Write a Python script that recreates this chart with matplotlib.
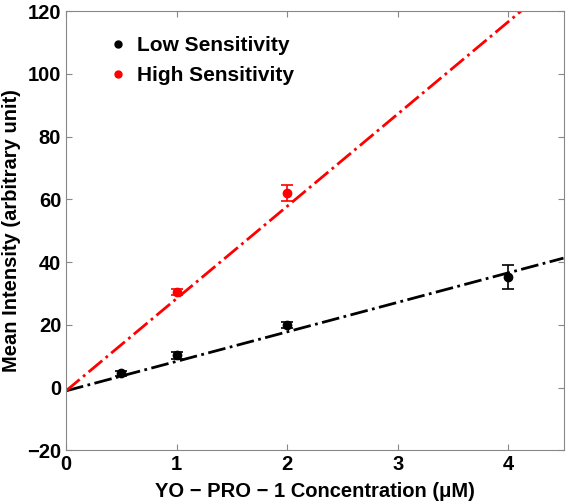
import numpy as np
import matplotlib
matplotlib.use("Agg")
import matplotlib.pyplot as plt

plt.rcParams['font.family'] = ['Liberation Sans', 'DejaVu Sans']
plt.rcParams['font.weight'] = 'bold'

low_x = [0.5, 1, 2, 4]
low_y = [4.6, 10.3, 20.0, 35.3]
low_err = [0.8, 1.0, 1.0, 3.8]
high_x = [1, 2]
high_y = [30.6, 62.0]
high_err = [1.0, 2.6]
low_fit = (9.4, -1.0)
high_fit = (29.4, -1.0)

fig = plt.figure(figsize=(5.66, 5.01), dpi=100)
ax = fig.add_axes([0.1166, 0.1008, 0.879, 0.877])

xf = np.linspace(0, 4.5, 200)
ax.plot(xf, low_fit[0]*xf + low_fit[1], color='black', ls='-.', lw=2)
ax.plot(xf, high_fit[0]*xf + high_fit[1], color='red', ls='-.', lw=2)

ax.errorbar(low_x, low_y, yerr=low_err, fmt='o', color='black', ms=6, capsize=4, elinewidth=1.2, capthick=1.2)
ax.errorbar(high_x, high_y, yerr=high_err, fmt='o', color='red', ms=6, capsize=4, elinewidth=1.2, capthick=1.2)

ax.set_xlim(0, 4.5)
ax.set_ylim(-20, 120)
ax.set_xticks([0, 1, 2, 3, 4])
ax.set_yticks(np.arange(-20, 121, 20))
ax.tick_params(direction='in', top=True, right=True, labelsize=14.5, color='#888888', length=4)
ax.tick_params(axis='x', pad=3)
for s in ax.spines.values():
    s.set_color('#888888')
ax.set_xlabel('YO \u2212 PRO \u2212 1 Concentration (\u03bcM)', fontsize=14.5, fontweight='bold', labelpad=6)
ax.set_ylabel('Mean Intensity (arbitrary unit)', fontsize=14.5, fontweight='bold', labelpad=4)

ax.legend([plt.Line2D([], [], marker='o', ls='', color='black', ms=5),
           plt.Line2D([], [], marker='o', ls='', color='red', ms=5)],
          ['Low Sensitivity', 'High Sensitivity'],
          loc='upper left', bbox_to_anchor=(0.05, 0.985), frameon=False,
          prop={'size': 15, 'weight': 'bold'}, handlelength=0.8, handletextpad=0.5, labelspacing=0.5)

fig.savefig('out.png', dpi=100)
